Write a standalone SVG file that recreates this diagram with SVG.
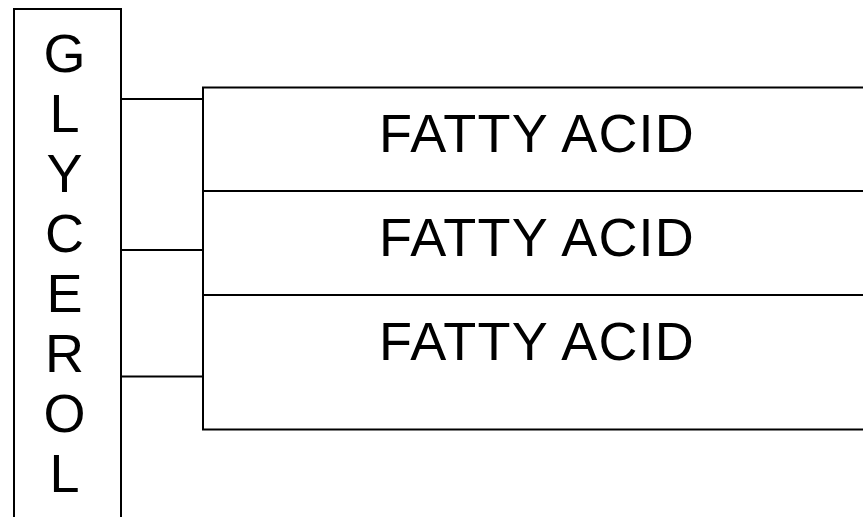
<svg xmlns="http://www.w3.org/2000/svg" width="863" height="517" viewBox="0 0 863 517">
<style>
.box{fill:#fff;stroke:#000;stroke-width:2}
.ln{fill:none;stroke:#000;stroke-width:2}
.t{font-family:"Liberation Sans",Arial,sans-serif;font-size:54px;fill:#000;text-anchor:middle}
.fa{letter-spacing:1.2px}
</style>
<rect width="863" height="517" fill="#fff"/>
<g id="connectors">
<line class="ln" x1="121" y1="99" x2="203" y2="99"/>
<line class="ln" x1="121" y1="250" x2="203" y2="250"/>
<line class="ln" x1="121" y1="376.5" x2="203" y2="376.5"/>
</g>
<g id="glycerol">
<rect class="box" x="14" y="9" width="107" height="520"/>
<text class="t" x="64.5" y="72">G</text>
<text class="t" x="64.5" y="132">L</text>
<text class="t" x="64.5" y="192">Y</text>
<text class="t" x="64.5" y="252">C</text>
<text class="t" x="64.5" y="312">E</text>
<text class="t" x="64.5" y="372">R</text>
<text class="t" x="64.5" y="432">O</text>
<text class="t" x="64.5" y="492">L</text>
</g>
<g id="fatty-acid-1">
<rect class="box" x="203" y="87.5" width="680" height="103.5"/>
<text class="t fa" x="537" y="152">FATTY ACID</text>
</g>
<g id="fatty-acid-2">
<rect class="box" x="203" y="191" width="680" height="104"/>
<text class="t fa" x="537" y="256">FATTY ACID</text>
</g>
<g id="fatty-acid-3">
<rect class="box" x="203" y="295" width="680" height="134.5"/>
<text class="t fa" x="537" y="360">FATTY ACID</text>
</g>
</svg>
